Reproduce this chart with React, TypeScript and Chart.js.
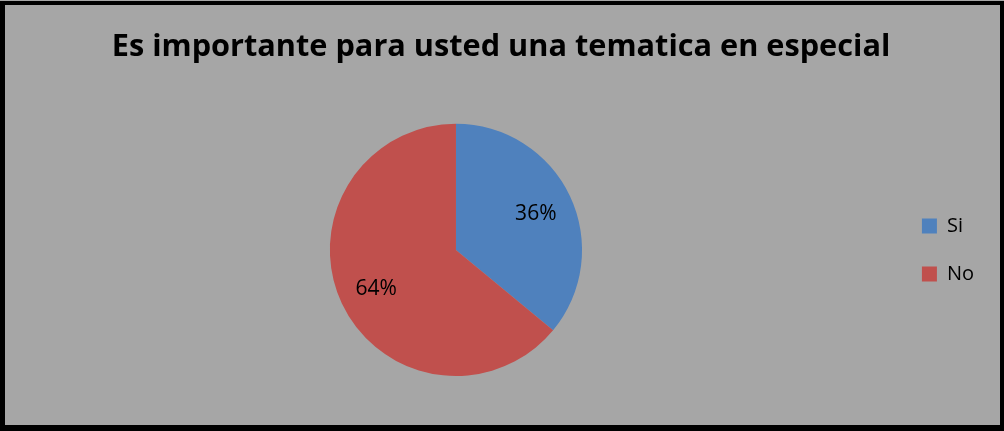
import React, { useEffect, useRef } from "react";
import { Chart, registerables } from "chart.js";

Chart.register(...registerables);

const titleText = "Es importante para usted una tematica en especial";
const categories = ["Si", "No"];
const values = [36, 64];
const sliceColors = ["#4f81bd", "#c0504d"];

const FONT = "'Open Sans', Lato, sans-serif";

const pieLabels = {
  id: "pieLabels",
  afterDatasetsDraw(chart: any) {
    const ctx = chart.ctx;
    const meta = chart.getDatasetMeta(0);
    const data = chart.data.datasets[0].data as number[];
    const total = data.reduce((a, b) => a + b, 0);
    ctx.save();
    ctx.fillStyle = "#000";
    ctx.font = `21px ${FONT}`;
    ctx.textAlign = "center";
    ctx.textBaseline = "alphabetic";
    meta.data.forEach((arc: any, i: number) => {
      const p = arc.getProps(["x", "y", "startAngle", "endAngle", "outerRadius"], true);
      const mid = (p.startAngle + p.endAngle) / 2;
      const r = p.outerRadius * 0.7;
      const x = p.x + Math.cos(mid) * r;
      const y = p.y + Math.sin(mid) * r;
      ctx.fillText(Math.round((data[i] / total) * 100) + "%", x, y + 7.5);
    });
    ctx.restore();
  },
};

export default function App() {
  const ref = useRef<HTMLCanvasElement | null>(null);
  useEffect(() => {
    if (!ref.current) return;
    const chart = new Chart(ref.current, {
      type: "pie",
      data: {
        labels: categories,
        datasets: [
          {
            data: values,
            backgroundColor: sliceColors,
            borderWidth: 0,
          },
        ],
      },
      options: {
        animation: false,
        responsive: false,
        maintainAspectRatio: false,
        layout: { padding: { left: 18, right: 20, top: 29, bottom: 55 } },
        plugins: {
          tooltip: { enabled: false },
          title: {
            display: true,
            text: titleText,
            color: "#000",
            font: { family: FONT, size: 30.7, weight: "bold", lineHeight: 1.2 },
            padding: { top: 0, bottom: 58 },
          },
          legend: {
            display: true,
            position: "right",
            fullSize: false,
            labels: {
              color: "#000",
              font: { family: FONT, size: 20 },
              boxWidth: 15,
              boxHeight: 15,
              padding: 28,
            },
          },
        },
      },
      plugins: [pieLabels],
    });
    return () => chart.destroy();
  }, []);
  return (
    <div
      style={{
        position: "absolute",
        left: 0,
        top: 0,
        width: 1004,
        height: 431,
        background: "#a6a6a6",
        overflow: "hidden",
      }}
    >
      <canvas
        ref={ref}
        width={1004}
        height={431}
        style={{ position: "absolute", left: 0, top: 0, width: 1004, height: 431 }}
      />
      <div
        style={{
          position: "absolute",
          left: 0,
          top: 1,
          width: 1004,
          height: 430,
          boxSizing: "border-box",
          borderStyle: "solid",
          borderColor: "#000",
          borderWidth: "4px 4px 6px 5px",
          pointerEvents: "none",
        }}
      />
    </div>
  );
}
